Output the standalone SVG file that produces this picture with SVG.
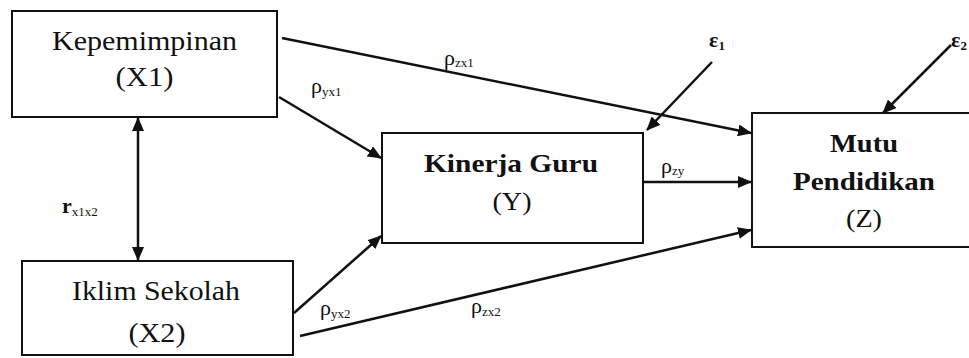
<svg xmlns="http://www.w3.org/2000/svg" width="969" height="358" viewBox="0 0 969 358">
<style>
.box{fill:#fff;stroke:#111;stroke-width:2}
.t{font-family:"Liberation Serif","Times New Roman",serif;fill:#111;text-anchor:middle}
.b{font-weight:bold}
.lbl{font-family:"Liberation Serif","Times New Roman",serif;fill:#111;font-size:22px}
.sub{font-size:13px}
.c{stroke:#111;stroke-width:2.5;fill:none;marker-end:url(#ah)}
</style>
<defs>
<marker id="ah" markerUnits="userSpaceOnUse" markerWidth="14" markerHeight="12" viewBox="0 0 14 12" refX="13" refY="6" orient="auto-start-reverse">
<path d="M0,0 L14,6 L0,12 z" fill="#111"/>
</marker>
</defs>
<rect width="969" height="358" fill="#fff"/>
<g id="connectors">
<line class="c" x1="282" y1="38" x2="751" y2="133"/>
<line class="c" x1="279" y1="97" x2="381" y2="158"/>
<line class="c" x1="294" y1="313" x2="381" y2="236"/>
<line class="c" x1="300" y1="336" x2="751" y2="230"/>
<line class="c" x1="643" y1="182" x2="751" y2="182"/>
<line class="c" x1="712" y1="62" x2="647" y2="130"/>
<line class="c" x1="951" y1="45" x2="883" y2="113"/>
<line class="c" x1="138" y1="118" x2="138" y2="260" style="marker-start:url(#ah)"/>
<text class="lbl" x="444" y="65">ρ<tspan class="sub" dy="2">zx1</tspan></text>
<text class="lbl" x="311" y="93">ρ<tspan class="sub" dy="3">yx1</tspan></text>
<text class="lbl" x="661" y="173">ρ<tspan class="sub" dy="2">zy</tspan></text>
<text class="lbl" x="320" y="315">ρ<tspan class="sub" dy="3">yx2</tspan></text>
<text class="lbl" x="471" y="313">ρ<tspan class="sub" dy="3">zx2</tspan></text>
<text class="lbl" x="62" y="213" font-weight="bold" font-size="18">r<tspan class="sub" dy="3" font-weight="normal">x1x2</tspan></text>
<text class="lbl" x="709" y="47" font-size="22" font-weight="bold">ε<tspan class="sub" dy="3">1</tspan></text>
<text class="lbl" x="951" y="47" font-size="22" font-weight="bold">ε<tspan class="sub" dy="3">2</tspan></text>
</g>
<g id="X1">
<rect class="box" x="12" y="11" width="265" height="106"/>
<text class="t" x="144.5" y="50" font-size="27" textLength="185" lengthAdjust="spacingAndGlyphs">Kepemimpinan</text>
<text class="t" x="144.5" y="86" font-size="27" textLength="58" lengthAdjust="spacingAndGlyphs">(X1)</text>
</g>
<g id="X2">
<rect class="box" x="22" y="261" width="271" height="94"/>
<text class="t" x="156" y="300" font-size="27" textLength="168" lengthAdjust="spacingAndGlyphs">Iklim Sekolah</text>
<text class="t" x="157" y="342" font-size="27" textLength="57" lengthAdjust="spacingAndGlyphs">(X2)</text>
</g>
<g id="Y">
<rect class="box" x="382" y="133" width="261" height="110"/>
<text class="t b" x="511" y="172" font-size="26" textLength="174" lengthAdjust="spacingAndGlyphs">Kinerja Guru</text>
<text class="t" x="512" y="210" font-size="26" textLength="39" lengthAdjust="spacingAndGlyphs">(Y)</text>
</g>
<g id="Z">
<rect class="box" x="752" y="113" width="230" height="134"/>
<text class="t b" x="864" y="152" font-size="25" textLength="68" lengthAdjust="spacingAndGlyphs">Mutu</text>
<text class="t b" x="864" y="190" font-size="25" textLength="142" lengthAdjust="spacingAndGlyphs">Pendidikan</text>
<text class="t" x="864" y="227" font-size="26" textLength="36" lengthAdjust="spacingAndGlyphs">(Z)</text>
</g>
</svg>
